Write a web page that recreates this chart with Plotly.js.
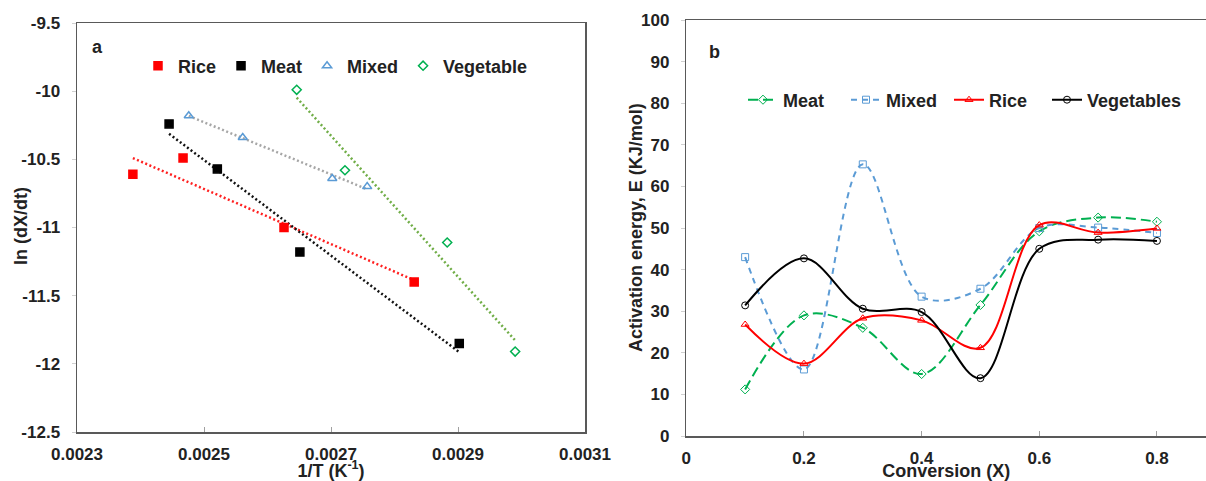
<!DOCTYPE html>
<html><head><meta charset="utf-8">
<script src="https://cdn.plot.ly/plotly-3.0.1.min.js"></script>
<style>html,body{margin:0;padding:0;background:#fff}#chart{width:1206px;height:481px}</style>
</head><body><div id="chart"></div>
<script>
// ---------- Panel a: ln(dX/dt) vs 1/T ----------
const riceX = [0.002388, 0.002467, 0.002626, 0.002831];
const riceY = [-10.61, -10.49, -11.00, -11.40];
const meatX = [0.002445, 0.002521, 0.002651, 0.002902];
const meatY = [-10.24, -10.57, -11.18, -11.85];
const mixedX = [0.002476, 0.002561, 0.002702, 0.002757];
const mixedY = [-10.18, -10.34, -10.64, -10.70];
const vegX = [0.002646, 0.002722, 0.002883, 0.002990];
const vegY = [-9.99, -10.58, -11.11, -11.91];
const aXTicks = [0.0023, 0.0025, 0.0027, 0.0029, 0.0031];
const aXTickText = ["0.0023", "0.0025", "0.0027", "0.0029", "0.0031"];
const aYTicks = [-9.5, -10, -10.5, -11, -11.5, -12, -12.5];
const aYTickText = ["-9.5", "-10", "-10.5", "-11", "-11.5", "-12", "-12.5"];

// ---------- Panel b: activation energy vs conversion ----------
const conversion = [0.1, 0.2, 0.3, 0.4, 0.5, 0.6, 0.7, 0.8];
const meatE = [11.2, 29.0, 26.0, 14.9, 31.5, 49.2, 52.5, 51.5];
const mixedE = [43.0, 16.0, 65.3, 33.5, 35.4, 50.0, 50.1, 48.8];
const riceE = [26.8, 17.4, 28.3, 27.8, 21.2, 50.7, 48.9, 49.9];
const vegE = [31.4, 42.7, 30.6, 29.8, 13.9, 45.0, 47.2, 46.9];
const bXTicks = [0, 0.2, 0.4, 0.6, 0.8];
const bXTickText = ["0", "0.2", "0.4", "0.6", "0.8"];
const bYTicks = [0, 10, 20, 30, 40, 50, 60, 70, 80, 90, 100];
const bYTickText = ["0", "10", "20", "30", "40", "50", "60", "70", "80", "90", "100"];

// linear least-squares trendline (as drawn by the spreadsheet)
function trend(xs, ys) {
  const n = xs.length;
  const mx = xs.reduce((a, b) => a + b, 0) / n;
  const my = ys.reduce((a, b) => a + b, 0) / n;
  let sxy = 0, sxx = 0;
  for (let i = 0; i < n; i++) { sxy += (xs[i] - mx) * (ys[i] - my); sxx += (xs[i] - mx) ** 2; }
  const k = sxy / sxx;
  const x0 = Math.min(...xs), x1 = Math.max(...xs);
  return { x: [x0, x1], y: [my + k * (x0 - mx), my + k * (x1 - mx)] };
}

const FONT = "Liberation Sans, Arial, sans-serif";
const TXT = "#222222";
const AX = "#595959";

const RED = "#ff0000", BLACK = "#000000", BLUE = "#5b9bd5", GREEN = "#00b050";

const traces = [];
function scatterA(name, xs, ys, color, symbol, size) {
  traces.push({x: xs, y: ys, name: name, type: "scatter", mode: "markers",
    xaxis: "x", yaxis: "y", legend: "legend",
    marker: {color: color, symbol: symbol, size: size, line: {color: color, width: 1.5}}});
}
function trendA(xs, ys, color) {
  const t = trend(xs, ys);
  traces.push({x: t.x, y: t.y, type: "scatter", mode: "lines", showlegend: false,
    xaxis: "x", yaxis: "y", hoverinfo: "skip",
    line: {color: color, width: 2.5, dash: "2px,2.5px"}});
}
trendA(riceX, riceY, "#ff2020");
trendA(meatX, meatY, "#111111");
trendA(mixedX, mixedY, "#a6a6a6");
trendA(vegX, vegY, "#70ad47");
scatterA("Rice", riceX, riceY, RED, "square", 8);
scatterA("Meat", meatX, meatY, BLACK, "square", 8);
scatterA("Mixed", mixedX, mixedY, BLUE, "triangle-up-open", 8);
scatterA("Vegetable", vegX, vegY, GREEN, "diamond-open", 7);

function lineB(name, ys, color, dash, symbol, leg) {
  traces.push({x: conversion, y: ys, name: name, type: "scatter", mode: "lines+markers",
    xaxis: "x2", yaxis: "y2", legend: leg,
    line: {color: color, width: 2, dash: dash, shape: "spline", smoothing: 1},
    marker: {color: color, symbol: symbol, size: 7, line: {color: color, width: 1}}});
}
lineB("Meat", meatE, GREEN, "10px,5px", "diamond-open", "legend2");
lineB("Mixed", mixedE, BLUE, "6px,5px", "square-open", "legend2");
lineB("Rice", riceE, RED, "solid", "triangle-up-open", "legend2");
lineB("Vegetables", vegE, BLACK, "solid", "circle-open", "legend3");

const tickFont = {family: FONT, size: 17, color: TXT, weight: "bold"};
const titleFont = {family: FONT, size: 18, color: TXT, weight: "bold"};

const layout = {
  width: 1206, height: 481,
  margin: {l: 0, r: 0, t: 0, b: 0},
  paper_bgcolor: "#ffffff", plot_bgcolor: "#ffffff",
  font: {family: FONT, color: TXT},
  xaxis: {domain: [77/1206, 585/1206], range: [0.0023, 0.0031], anchor: "y",
    tickmode: "array", tickvals: aXTicks, ticktext: aXTickText,
    showgrid: false, zeroline: false, showline: true, mirror: true,
    linecolor: AX, linewidth: 1.5, ticks: "inside", ticklen: 5, tickcolor: "#a0a0a0",
    tickfont: tickFont, ticklabelstandoff: 6,
    title: {text: "1/T (K<sup>-1</sup>)", font: titleFont, standoff: 3}},
  yaxis: {domain: [49/481, 458/481], range: [-12.5, -9.5], anchor: "x",
    tickmode: "array", tickvals: aYTicks, ticktext: aYTickText,
    showgrid: false, zeroline: false, showline: true, mirror: true,
    linecolor: AX, linewidth: 1.5, ticks: "outside", ticklen: 4, tickcolor: "#d0d0d0",
    tickfont: tickFont, ticklabelstandoff: 8},
  xaxis2: {domain: [686.3/1206, 1], range: [0, 0.8834], anchor: "y2",
    tickmode: "array", tickvals: bXTicks, ticktext: bXTickText,
    showgrid: false, zeroline: false, showline: true, mirror: true,
    linecolor: AX, linewidth: 1.5, ticks: "inside", ticklen: 5, tickcolor: "#a0a0a0",
    tickfont: tickFont, ticklabelstandoff: 6,
    title: {text: "Conversion (X)", font: titleFont, standoff: 3}},
  yaxis2: {domain: [45/481, 461/481], range: [0, 100], anchor: "x2",
    tickmode: "array", tickvals: bYTicks, ticktext: bYTickText,
    showgrid: false, zeroline: false, showline: true, mirror: false,
    linecolor: AX, linewidth: 1.5, ticks: "outside", ticklen: 4, tickcolor: "#d0d0d0",
    tickfont: tickFont, ticklabelstandoff: 8},
  legend: {orientation: "h", x: 138/1206, xanchor: "left", y: 1 - 66/481, yanchor: "middle",
    bgcolor: "rgba(0,0,0,0)", borderwidth: 0, font: titleFont, tracegroupgap: 0},
  legend2: {orientation: "h", x: 743/1206, xanchor: "left", y: 1 - 100/481, yanchor: "middle",
    bgcolor: "rgba(0,0,0,0)", borderwidth: 0, font: titleFont, entrywidth: 58, tracegroupgap: 0},
  legend3: {orientation: "h", x: 1047/1206, xanchor: "left", y: 1 - 100/481, yanchor: "middle",
    bgcolor: "rgba(0,0,0,0)", borderwidth: 0, font: titleFont, tracegroupgap: 0},
  annotations: [
    {text: "a", x: 97/1206, y: 1 - 47/481, xref: "paper", yref: "paper", showarrow: false,
     font: titleFont, xanchor: "center", yanchor: "middle"},
    {text: "b", x: 714/1206, y: 1 - 52/481, xref: "paper", yref: "paper", showarrow: false,
     font: titleFont, xanchor: "center", yanchor: "middle"},
    {text: "ln (dX/dt)", x: 21/1206, y: 1 - 226/481, xref: "paper", yref: "paper", showarrow: false,
     textangle: -90, font: titleFont, xanchor: "center", yanchor: "middle"},
    {text: "Activation energy, E (KJ/mol)", x: 636/1206, y: 1 - 228/481, xref: "paper", yref: "paper",
     showarrow: false, textangle: -90, font: titleFont, xanchor: "center", yanchor: "middle"}
  ],
  showlegend: true
};

Plotly.newPlot("chart", traces, layout, {displayModeBar: false, staticPlot: true});
</script>
</body></html>
